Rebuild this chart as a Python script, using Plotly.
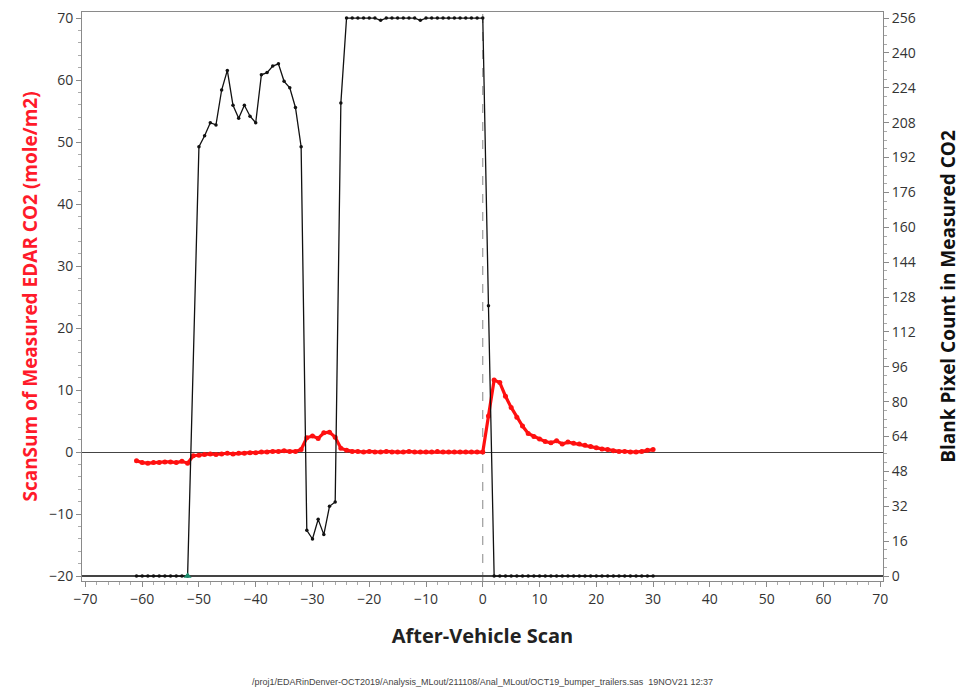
import plotly.graph_objects as go

# ---------------- data ----------------
red_x = list(range(-61, 31))
red_y = [
    -1.4, -1.7, -1.8, -1.7, -1.7, -1.6, -1.6, -1.7, -1.5, -1.8,   # -61..-52
    -0.6, -0.5, -0.4, -0.3, -0.4, -0.3, -0.2, -0.3, -0.2, -0.2,   # -51..-42
    -0.1, -0.1, 0.0, 0.0, 0.1, 0.1, 0.2, 0.1, 0.1, 0.4,           # -41..-32
    2.3, 2.6, 2.2, 3.1, 3.2, 2.4, 0.6, 0.3,                       # -31..-24
    0.1, 0.1, 0.0, 0.1, 0.0, 0.0, 0.1, 0.0, 0.0, 0.0, 0.1, 0.0,   # -23..-12
    0.0, 0.0, 0.0, 0.1, 0.0, 0.0, 0.0, 0.0, 0.0, 0.0, 0.0,        # -11..-1
    0.0, 5.8, 11.6, 11.2, 9.0, 7.2, 5.6, 4.2, 3.0, 2.5, 2.1,      # 0..10
    1.7, 1.5, 1.8, 1.3, 1.6, 1.4, 1.3, 1.1, 0.9, 0.7,             # 11..20
    0.5, 0.4, 0.2, 0.1, 0.1, 0.0, 0.0, 0.1, 0.3, 0.4,             # 21..30
]

black_x = list(range(-61, -51)) + list(range(-50, 31))
black_y = (
    [0] * 10                                                        # -61..-52
    + [197, 202, 208, 207, 223, 232, 216, 210, 216, 211,           # -50..-41
       208, 230, 231, 234, 235, 227, 224, 215, 197,                # -40..-32
       21, 17, 26, 19, 32, 34, 217,                                 # -31..-25
       256, 256, 256, 256, 256, 256, 255, 256, 256, 256, 256, 256,  # -24..-13
       256, 255, 256, 256, 256, 256, 256, 256, 256, 256, 256, 256,  # -12..-1
       256, 124]                                                    # 0, 1
    + [0] * 29                                                      # 2..30
)

ref_x = 0          # dashed reference line
marker_idx = 9     # special (triangle) marker on the pixel-count series

x_ticks = list(range(-70, 71, 10))
left_ticks = list(range(-20, 71, 10))
right_ticks = list(range(0, 257, 16))

left_title = "ScanSum of Measured EDAR CO2 (mole/m2)"
right_title = "Blank Pixel Count in Measured CO2"
x_title = "After-Vehicle Scan"
footer = "/proj1/EDARinDenver-OCT2019/Analysis_MLout/211108/Anal_MLout/OCT19_bumper_trailers.sas  19NOV21 12:37"

FONT = "Open Sans"

fig = go.Figure()

fig.add_trace(go.Scatter(
    x=black_x, y=black_y, yaxis="y2", mode="lines+markers",
    line=dict(color="#111111", width=1.3),
    marker=dict(color="#111111", size=3.5),
    showlegend=False,
))
fig.add_trace(go.Scatter(
    x=[black_x[marker_idx]], y=[black_y[marker_idx]], yaxis="y2", mode="markers",
    marker=dict(color="#1a8a6a", size=7, symbol="triangle-up"),
    showlegend=False,
))
fig.add_trace(go.Scatter(
    x=red_x, y=red_y, yaxis="y", mode="lines+markers",
    line=dict(color="#ff1010", width=3.2),
    marker=dict(color="#ff1010", size=5),
    showlegend=False,
))

fig.add_shape(type="line", xref="x", yref="paper", x0=ref_x, x1=ref_x, y0=0, y1=1,
              line=dict(color="#888888", width=1, dash="dash"), layer="below")

axis_common = dict(
    showgrid=False, showline=True, linecolor="#8a8a8a", linewidth=1,
    ticks="outside", ticklen=5, tickcolor="#8a8a8a", automargin=False,
    tickfont=dict(family=FONT, size=14, color="#333333"),
)

fig.update_layout(
    width=965, height=687,
    margin=dict(l=82, r=82, t=12, b=106),
    paper_bgcolor="white", plot_bgcolor="white",
    font=dict(family=FONT),
    xaxis=dict(
        range=[-70.6, 70.5], tickvals=x_ticks, zeroline=False, mirror=True,
        minor=dict(ticks="outside", dtick=2, ticklen=3, tickcolor="#aaaaaa"),
        title=dict(text=x_title, font=dict(family=FONT, size=20, color="#222222", weight="bold"), standoff=22),
        **axis_common,
    ),
    yaxis=dict(
        range=[-20.8, 70.97], tickvals=left_ticks,
        zeroline=True, zerolinecolor="#444444", zerolinewidth=1.2,
        minor=dict(ticks="outside", dtick=2, ticklen=3, tickcolor="#aaaaaa"),
        title=dict(text=left_title, font=dict(family=FONT, size=19, color="#ff1a2a", weight="bold"), standoff=6),
        **axis_common,
    ),
    yaxis2=dict(
        range=[-2.28, 258.8], tickvals=right_ticks, overlaying="y", side="right",
        zeroline=True, zerolinecolor="#444444", zerolinewidth=1.5,
        minor=dict(ticks="outside", dtick=4, ticklen=3, tickcolor="#aaaaaa"),
        title=dict(text=right_title, font=dict(family=FONT, size=19, color="#111111", weight="bold"), standoff=26),
        **axis_common,
    ),
    annotations=[dict(
        text=footer, xref="paper", yref="paper", x=0.5, y=-0.165, yanchor="top",
        showarrow=False, font=dict(family="Liberation Sans", size=9, color="#444444"),
    )],
)

fig.write_html("out.html")
